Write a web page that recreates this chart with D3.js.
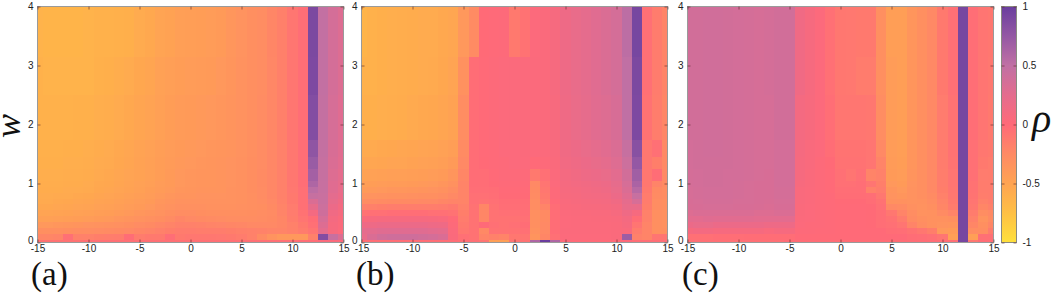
<!DOCTYPE html>
<html>
<head>
<meta charset="utf-8">
<script src="https://d3js.org/d3.v7.min.js"></script>
<style>
  html, body { margin: 0; padding: 0; background: #fff; overflow: hidden; }
  .tick text { font-family: "Liberation Sans", Arial, sans-serif; font-size: 10px; fill: #222; }
  .lab { font-family: "Liberation Serif", serif; fill: #111; }
</style>
</head>
<body>
<svg id="chart" width="1052" height="294"></svg>
<script>
// w band edges, one band per row of the panels below
const wEdges = [0, 0.05, 0.15, 0.25, 0.35, 0.45, 0.55, 0.65, 0.75, 0.85, 0.95, 1.05, 1.25, 1.45, 1.75, 2.5, 3.15, 4];
const xCells = d3.range(-15, 16);
const xTicks = [-15, -10, -5, 0, 5, 10, 15];
const wTicks = [0, 1, 2, 3, 4];
const rhoTicks = [-1, -0.5, 0, 0.5, 1];
const rhoStops = [-1, -0.75, -0.5, -0.25, 0, 0.25, 0.5, 0.75, 1];
const rhoColors = ["#ffe03c", "#ffc044", "#ffa452", "#ff8a64", "#ff6a78", "#e46c8e", "#c070a4", "#9458a4", "#6a3e9e"];

// rho x 100, bottom row first, columns x = -15 .. 15
const panelA = [
  [-6,-6,-6,-6,-6, -5,-5,-5,-5,-5, -5,-5,-5,-5,-5, -5,-5,-5,-5,-5, -5,-5,-5,-4,-4, -4,-3,-2,5,5,4],
  [-22,-22,-20,-4,-18, -18,-16,-15,-14,-2, -14,-12,-12,-3,-12, -10,-10,-10,-11,-12, -14,-18,-26,-34,-38, -38,-38,-18,85,45,30],
  [-30,-30,-30,-29,-28, -28,-27,-26,-25,-24, -22,-20,-18,-16,-14, -14,-15,-15,-15,-16, -17,-18,-19,-20,-20, -18,-14,-8,25,8,3],
  [-38,-38,-37,-36,-35, -34,-33,-32,-31,-29, -27,-25,-23,-20,-18, -18,-19,-20,-21,-22, -23,-24,-24,-24,-22, -18,-12,-4,30,8,4],
  [-46,-46,-45,-44,-43, -42,-40,-39,-37,-35, -33,-31,-29,-26,-22, -24,-25,-26,-27,-28, -28,-28,-27,-25,-22, -15,-8,-2,35,10,5],
  [-50,-50,-49,-48,-47, -46,-44,-43,-41,-39, -37,-35,-33,-30,-28, -28,-29,-30,-30,-30, -30,-29,-28,-26,-20, -13,-6,10,40,14,8],
  [-53,-53,-52,-51,-50, -49,-47,-46,-44,-42, -40,-38,-35,-33,-31, -31,-31,-32,-32,-32, -31,-30,-29,-25,-20, -13,-5,22,42,18,10],
  [-55,-55,-54,-53,-52, -51,-49,-48,-46,-44, -42,-40,-37,-35,-33, -33,-33,-33,-33,-33, -32,-30,-28,-24,-19, -12,-4,32,44,22,14],
  [-56,-56,-55,-55,-54, -53,-51,-50,-48,-46, -44,-42,-39,-37,-35, -35,-34,-34,-34,-33, -32,-30,-27,-23,-18, -12,-4,46,44,25,18],
  [-57,-57,-57,-56,-56, -55,-53,-52,-50,-48, -46,-43,-41,-39,-37, -36,-35,-35,-35,-33, -32,-29,-27,-23,-18, -11,-4,52,45,28,20],
  [-58,-58,-58,-57,-57, -56,-54,-53,-51,-49, -47,-45,-42,-40,-38, -37,-36,-36,-35,-34, -32,-29,-26,-23,-18, -10,-3,60,45,28,22],
  [-59,-59,-59,-58,-58, -57,-55,-54,-52,-50, -48,-46,-43,-40,-38, -37,-36,-36,-35,-34, -32,-29,-26,-23,-18, -10,-3,66,46,30,24],
  [-60,-60,-60,-59,-59, -58,-56,-55,-53,-51, -48,-46,-43,-41,-39, -38,-37,-36,-35,-34, -32,-29,-27,-23,-18, -10,-3,72,46,32,26],
  [-61,-61,-61,-60,-60, -59,-57,-56,-54,-52, -49,-47,-44,-42,-40, -39,-38,-37,-36,-35, -33,-30,-27,-23,-18, -10,-3,78,47,33,27],
  [-62,-62,-62,-62,-61, -61,-59,-58,-56,-54, -51,-49,-46,-43,-41, -40,-39,-38,-37,-35, -33,-30,-27,-23,-17, -9,-3,85,47,35,28],
  [-62,-63,-63,-63,-63, -63,-61,-60,-58,-56, -53,-51,-47,-45,-43, -42,-41,-40,-38,-36, -33,-30,-28,-23,-17, -9,-3,88,48,36,30],
  [-63,-64,-64,-64,-64, -63,-62,-62,-61,-60, -56,-54,-50,-48,-45, -44,-43,-42,-40,-37, -34,-30,-28,-22,-17, -9,-3,90,48,36,30]
];
const panelB = [
  [-3,-3,-3,-3,-3, -3,-3,-3,-3,-3, -5,-5,-8,-45,-45, -8,-6,60,100,60, 2,0,0,0,0, 0,2,-3,-3,-3,-3],
  [20,32,38,40,40, 40,38,36,32,5, -5,-6,-20,-18,-20, -10,-8,-35,-22,-4, 3,3,3,3,3, 5,70,-18,-20,-8,-8],
  [24,26,28,28,28, 28,28,26,24,4, -10,-6,-24,-6,-6, -6,-4,-32,-24,-2, 4,4,4,4,4, 5,6,-14,-20,-30,-30],
  [15,16,18,18,18, 18,18,16,15,2, -12,-6,0,-5,-6, -4,-2,-30,-24,-2, 3,4,4,4,4, 5,8,-8,-20,-30,-32],
  [6,7,8,8,8, 8,8,7,6,0, -14,-6,-22,-6,-6, -6,-4,-30,-25,-2, 3,4,4,5,5, 6,10,-2,-18,-30,-32],
  [-6,-5,-4,-3,-3, -3,-3,-4,-5,-6, -16,-6,-22,-6,-4, -4,-3,-30,-25,-2, 4,5,5,6,6, 8,15,8,-18,-30,-32],
  [-18,-17,-16,-15,-15, -15,-15,-15,-14,-12, -18,-6,-22,-6,-3, -3,-3,-28,-20,-2, 5,6,7,7,8, 10,20,20,-16,-28,-30],
  [-28,-27,-26,-25,-25, -25,-24,-24,-22,-20, -20,-4,-6,-4,-2, -2,-2,-28,-14,0, 6,7,8,9,10, 14,24,35,-14,-28,-30],
  [-35,-34,-33,-32,-32, -31,-30,-30,-28,-24, -20,-4,-4,-3,-1, -1,-1,-26,-12,2, 7,8,10,11,12, 18,28,45,-14,-26,-28],
  [-40,-39,-38,-37,-37, -36,-35,-34,-32,-28, -20,-3,-3,-2,0, 0,0,-25,-10,2, 8,9,11,13,15, 20,32,55,-12,-25,-28],
  [-44,-43,-42,-41,-41, -40,-39,-38,-36,-32, -20,-2,-2,-1,1, 1,1,-24,-8,3, 9,11,13,15,17, 23,35,62,-10,-20,-26],
  [-48,-47,-46,-45,-45, -44,-43,-42,-40,-36, -22,-2,-2,0,2, 2,2,-12,-4,4, 10,13,16,18,20, 26,38,68,-10,-2,-24],
  [-52,-52,-51,-50,-50, -48,-47,-46,-44,-40, -24,-2,-1,1,2, 3,3,0,2,5, 12,15,18,21,24, 29,42,75,-10,-16,-24],
  [-55,-55,-54,-53,-52, -51,-50,-49,-47,-44, -26,-2,0,1,3, 3,4,3,4,6, 14,17,20,24,27, 32,46,82,-10,-4,-24],
  [-60,-60,-59,-58,-57, -55,-54,-53,-51,-48, -28,-2,0,2,3, 4,4,4,5,7, 15,19,23,27,30, 34,50,88,-6,-15,-22],
  [-62,-62,-60,-59,-58, -57,-56,-55,-53,-50, -32,-2,0,2,3, 4,4,4,5,8, 16,20,24,28,32, 36,50,90,-4,-14,-20],
  [-64,-62,-60,-59,-58, -57,-56,-56,-54,-52, -38,-26,-1,1,2, -12,-6,3,5,8, 16,20,24,28,32, 36,52,92,-4,-14,-20]
];
const panelC = [
  [-4,-4,-4,-4,-4, -4,-4,-4,-4,-4, -2,-2,-2,-2,-2, -2,-2,-2,-2,-2, -2,-2,-2,-2,-2, -2,-5,92,-10,-2,-2],
  [-5,-4,-4,-3,-3, -3,-2,-2,-2,-2, -2,0,0,0,0, 0,0,0,0,0, 0,0,-2,-3,-4, -8,-45,92,-45,-5,-5],
  [8,10,10,8,8, 8,8,8,6,8, 8,2,2,1,1, 0,0,0,0,0, -2,-3,-6,-10,-16, -38,-40,92,-28,-28,-14],
  [18,20,20,18,18, 18,18,18,16,16, 16,3,2,2,1, 0,0,0,-1,-3, -4,-8,-20,-28,-32, -34,-35,92,-22,-30,-22],
  [26,26,28,27,27, 27,27,26,26,26, 26,4,3,2,1, 0,0,0,-1,-3, -6,-14,-26,-30,-32, -32,-30,92,-18,-34,-26],
  [30,32,32,32,32, 32,32,30,30,32, 32,5,3,2,1, 0,0,0,-1,-3, -10,-20,-28,-33,-32, -26,-20,92,-14,-28,-24],
  [33,34,35,35,35, 34,34,33,32,34, 34,5,3,2,1, 0,0,0,-1,-4, -24,-26,-31,-33,-30, -22,-14,92,-10,-22,-18],
  [34,35,36,36,36, 35,35,34,33,35, 35,6,4,2,1, -1,-1,-1,-2,-6, -32,-32,-33,-32,-28, -20,-12,92,-8,-18,-15],
  [35,36,37,37,37, 36,35,34,34,36, 36,6,4,2,1, -2,-2,-2,-3,-10, -34,-36,-33,-30,-26, -18,-10,92,-7,-15,-14],
  [35,36,37,37,37, 36,35,34,34,36, 36,6,4,2,0, -3,-3,-3,-18,-14, -35,-38,-33,-30,-24, -16,-9,92,-6,-14,-14],
  [36,37,38,38,37, 36,35,34,34,37, 37,7,5,2,0, -4,-4,-3,-8,-16, -38,-40,-34,-30,-24, -15,-8,92,-6,-14,-14],
  [36,37,38,38,37, 37,36,35,34,37, 37,8,5,2,0, -5,-8,-5,-20,-18, -40,-42,-35,-30,-24, -15,-8,92,-5,-13,-14],
  [37,38,38,38,38, 37,36,35,35,37, 37,8,6,2,-1, -6,-6,-6,-8,-20, -41,-43,-36,-30,-24, -14,-7,92,-5,-12,-14],
  [37,38,39,39,38, 37,36,35,35,37, 37,9,6,3,-2, -7,-7,-7,-8,-24, -42,-44,-36,-30,-24, -14,-6,92,-4,-10,-12],
  [38,38,39,39,38, 37,36,35,35,38, 38,10,7,3,-3, -9,-9,-9,-10,-28, -42,-44,-36,-30,-24, -13,-6,92,-3,-8,-12],
  [38,38,39,39,38, 37,36,35,36,38, 38,14,8,3,-4, -10,-11,-14,-14,-30, -42,-44,-36,-30,-24, -12,-5,92,-3,-8,-11],
  [38,38,39,39,38, 37,36,35,36,38, 38,14,8,3,-4, -10,-11,-12,-12,-30, -44,-44,-36,-30,-24, -12,-5,92,-3,-8,-10]
];

const plotTop = 6.5, plotBottom = 242.5;
const panels = [
  { rows: panelA, left: 37.5, right: 343.5, tag: "(a)", tagX: 31 },
  { rows: panelB, left: 361.5, right: 667.5, tag: "(b)", tagX: 356 },
  { rows: panelC, left: 687.5, right: 993.5, tag: "(c)", tagX: 682 }
];

const color = d3.scaleLinear().domain(rhoStops).range(rhoColors).clamp(true);
const y = d3.scaleLinear().domain([0, 4]).range([plotBottom, plotTop]);
const svg = d3.select("#chart");

const defs = svg.append("defs");
defs.append("filter").attr("id", "soft")
  .attr("x", "-2%").attr("y", "-2%").attr("width", "104%").attr("height", "104%")
  .append("feGaussianBlur").attr("stdDeviation", 0.6);

const styleAxis = (g) => {
  g.select(".domain").remove();
  g.selectAll(".tick line").attr("stroke", "#5a2a2a").attr("stroke-opacity", 0.6);
};

panels.forEach((p, i) => {
  const x = d3.scaleLinear().domain([-15, 15]).range([p.left, p.right]);
  defs.append("clipPath").attr("id", "clip" + i)
    .append("rect").attr("x", p.left).attr("y", plotTop)
    .attr("width", p.right - p.left).attr("height", plotBottom - plotTop);

  const g = svg.append("g");
  const cells = g.append("g").attr("clip-path", `url(#clip${i})`)
    .append("g").attr("filter", "url(#soft)").attr("shape-rendering", "crispEdges");

  p.rows.forEach((row, r) => {
    cells.selectAll(null)
      .data(xCells.map((v, c) => ({ v, rho: row[c] / 100 })))
      .enter()
      .append("rect")
      .attr("x", (d) => x(d.v - 0.5))
      .attr("width", x(1) - x(0) + 0.4)
      .attr("y", y(wEdges[r + 1]) - 0.3)
      .attr("height", y(wEdges[r]) - y(wEdges[r + 1]) + 0.6)
      .attr("fill", (d) => color(d.rho));
  });

  // frame
  g.append("rect").attr("x", p.left).attr("y", plotTop)
    .attr("width", p.right - p.left).attr("height", plotBottom - plotTop)
    .attr("fill", "none").attr("stroke", "#9a9a9a").attr("stroke-width", 1);

  // gnuplot style ticks, pointing inwards on all sides
  g.append("g").attr("transform", `translate(0,${plotBottom})`)
    .call(d3.axisBottom(x).tickValues(xTicks).tickFormat((d) => d).tickSizeInner(-3).tickPadding(2))
    .call(styleAxis);
  g.append("g").attr("transform", `translate(0,${plotTop})`)
    .call(d3.axisTop(x).tickValues(xTicks).tickFormat("").tickSizeInner(-3))
    .call(styleAxis);
  g.append("g").attr("transform", `translate(${p.left},0)`)
    .call(d3.axisLeft(y).tickValues(wTicks).tickFormat((d) => d).tickSizeInner(-3).tickPadding(4))
    .call(styleAxis);
  g.append("g").attr("transform", `translate(${p.right},0)`)
    .call(d3.axisRight(y).tickValues(wTicks).tickFormat("").tickSizeInner(-3))
    .call(styleAxis);

  // the zero label sits a little above its tick, clear of the x labels
  g.selectAll("text").filter(function () {
    return this.textContent === "0" && d3.select(this).attr("dy") === "0.32em";
  }).attr("dy", "0.1em");

  svg.append("text").attr("class", "lab").attr("x", p.tagX).attr("y", 285)
    .attr("font-size", 33).text(p.tag);
});

// colour bar
const barLeft = 1001.5, barRight = 1016.5;
const rhoY = d3.scaleLinear().domain([-1, 1]).range([plotBottom, plotTop]);
const grad = defs.append("linearGradient").attr("id", "rhoGrad")
  .attr("x1", 0).attr("y1", 1).attr("x2", 0).attr("y2", 0);
grad.selectAll("stop").data(rhoStops).enter().append("stop")
  .attr("offset", (d) => (d + 1) / 2)
  .attr("stop-color", (d) => color(d));
svg.append("rect").attr("x", barLeft).attr("y", plotTop)
  .attr("width", barRight - barLeft).attr("height", plotBottom - plotTop)
  .attr("fill", "url(#rhoGrad)").attr("stroke", "#8a8a80");
svg.append("g").attr("transform", `translate(${barRight},0)`)
  .call(d3.axisRight(rhoY).tickValues(rhoTicks).tickFormat((d) => d).tickSizeInner(-3).tickPadding(6))
  .call(styleAxis);
svg.append("g").attr("transform", `translate(${barLeft},0)`)
  .call(d3.axisLeft(rhoY).tickValues(rhoTicks).tickFormat("").tickSizeInner(-3))
  .call(styleAxis);

// axis letters
svg.append("text").attr("class", "lab")
  .attr("transform", "translate(20,126) rotate(-90)")
  .attr("text-anchor", "middle").attr("font-style", "italic").attr("font-size", 36).text("w");
svg.append("text").attr("class", "lab")
  .attr("x", 1032).attr("y", 132)
  .attr("font-style", "italic").attr("font-size", 40).text("ρ");
</script>
</body>
</html>
